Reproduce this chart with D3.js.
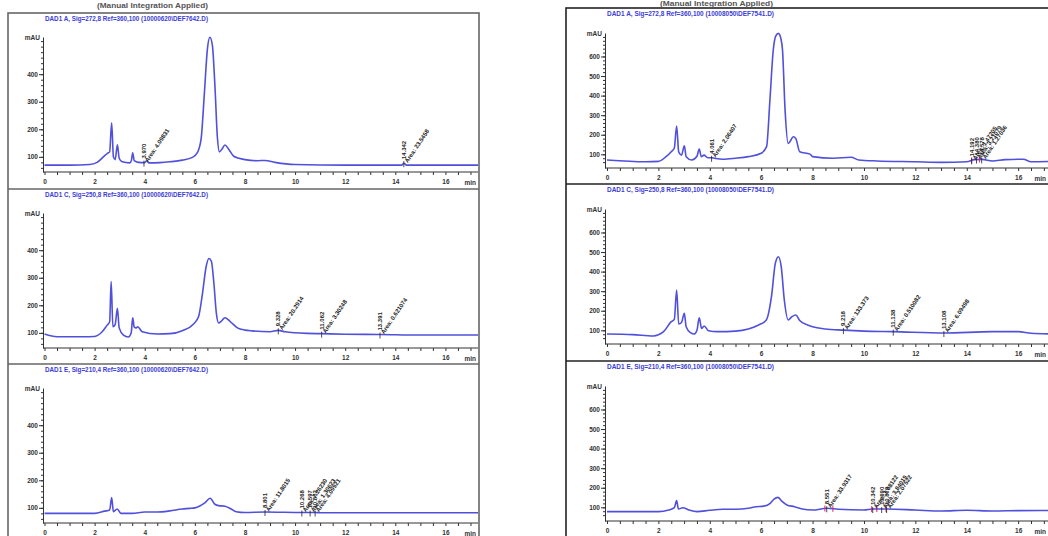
<!DOCTYPE html>
<html>
<head>
<meta charset="utf-8">
<script src="https://cdn.jsdelivr.net/npm/d3@7"></script>
<style>
  body { margin: 0; background: #fff; }
  svg { display: block; font-family: "Liberation Sans", Arial, sans-serif; }
  .axis text { fill: #333; font-size: 6.5px; font-weight: bold; }
  .axis path, .axis line { stroke: #333; }
</style>
</head>
<body>
<svg id="chart" width="1048" height="536"></svg>
<script>
// -- TRACES (time min, mAU) --
const traceL1 = [[0,70],[1.0,70],[1.8,72],[2.1,80],[2.35,100],[2.5,112],[2.6,118],[2.68,224],[2.75,100],[2.82,90],[2.91,144],[2.98,95],[3.1,82],[3.4,78],[3.47,88],[3.52,115],[3.58,86],[3.75,80],[4.0,79],[4.08,86],[4.16,78],[4.6,79],[5.0,82],[5.5,88],[5.9,98],[6.1,115],[6.25,165],[6.38,330],[6.5,490],[6.6,534],[6.7,505],[6.8,360],[6.9,170],[6.98,118],[7.08,128],[7.2,143],[7.35,128],[7.55,102],[8.0,90],[8.5,86],[8.8,87],[9.2,80],[10,72],[12,70],[14.25,70],[14.34,77],[14.45,70],[16,70],[17.3,70]];
const traceL2 = [[0,96],[0.5,86],[1.5,86],[2.0,87],[2.3,104],[2.5,128],[2.6,140],[2.66,286],[2.73,122],[2.82,130],[2.91,189],[2.98,118],[3.15,92],[3.35,85],[3.46,100],[3.52,155],[3.58,121],[3.66,118],[3.72,122],[3.9,104],[4.5,96],[5.0,97],[5.5,108],[5.95,132],[6.15,159],[6.3,240],[6.45,340],[6.56,370],[6.66,360],[6.76,280],[6.86,170],[6.95,136],[7.05,142],[7.2,155],[7.4,142],[7.7,118],[8.0,110],[8.3,107],[9.0,104],[9.33,109],[9.6,104],[10.5,98],[11.06,97],[12,95],[13.39,94],[15,92],[17.3,92]];
const traceL3 = [[0,80],[2.0,80],[2.4,88],[2.6,92],[2.68,137],[2.75,86],[2.9,96],[3.05,80],[3.5,80],[4.0,85],[4.5,85],[5.0,89],[5.5,96],[5.8,98],[6.0,100],[6.2,107],[6.4,118],[6.61,135],[6.8,113],[6.95,108],[7.2,106],[7.45,96],[7.65,86],[8.0,83],[8.8,85],[10.3,83],[10.8,83],[11,82],[13,82],[17.3,82]];
const traceR1 = [[0,71],[1.5,62],[2.0,64],[2.3,88],[2.5,113],[2.62,132],[2.71,245],[2.79,113],[2.9,96],[3.01,144],[3.08,88],[3.3,71],[3.5,90],[3.59,127],[3.67,88],[3.78,96],[3.9,84],[4.07,82],[4.5,75],[5.0,80],[5.5,88],[6.0,105],[6.21,139],[6.34,377],[6.47,633],[6.57,705],[6.67,718],[6.77,690],[6.83,633],[6.93,326],[7.05,156],[7.12,165],[7.25,190],[7.35,180],[7.5,113],[7.9,101],[8.0,88],[8.8,80],[9.5,85],[9.8,71],[10.5,66],[12,62],[13,59],[14,62],[14.3,73],[14.6,74],[15,66],[15.5,73],[16.2,75],[16.5,62],[17.5,64]];
const traceR2 = [[0,81],[1.0,78],[1.8,71],[2.2,93],[2.5,144],[2.62,156],[2.71,306],[2.79,132],[2.9,140],[3.01,187],[3.08,118],[3.25,88],[3.4,81],[3.5,100],[3.59,164],[3.68,110],[3.78,122],[3.95,98],[4.3,93],[5.0,96],[5.5,107],[5.9,127],[6.2,153],[6.4,272],[6.55,442],[6.67,476],[6.78,425],[6.9,255],[7.05,153],[7.2,170],[7.35,178],[7.5,150],[7.8,127],[8.0,118],[8.5,107],[9.2,101],[10,96],[11.14,93],[13.11,86],[15,93],[16,93],[16.5,85],[17.5,81]];
const traceR3 = [[0,78],[2.0,78],[2.4,86],[2.62,98],[2.71,134],[2.78,91],[2.95,98],[3.2,86],[3.5,78],[4.0,85],[4.5,90],[5.0,90],[5.5,95],[5.8,103],[6.1,106],[6.35,120],[6.5,142],[6.65,151],[6.8,132],[7.0,112],[7.3,103],[7.6,91],[8.0,86],[8.55,95],[9.0,90],[10,86],[10.34,91],[10.9,91],[12,86],[13,81],[14,85],[15,81],[16,83],[17.5,84]];

// -- PEAK LABELS [time, retention text, area text] --
const annL1 = [[3.97,"3.970","Area: 4.09831"],[14.34,"14.342","Area: 23.5458"]];
const annL2 = [[9.33,"9.328","Area: 20.2914"],[11.06,"11.062","Area: 3.30248"],[13.39,"13.391","Area: 0.621074"]];
const annL3 = [[8.8,"8.801","Area: 11.8015"],[10.27,"10.268","Area: 7.26230"],[10.6,"10.597","Area: 1.30623"],[10.8,"10.802","Area: 4.09921"]];
const annR1 = [[4.07,"4.061","Area: 2.06407"],[14.19,"14.192","Area: 1.47205"],[14.38,"14.380","Area: 3.21079"],[14.58,"14.578","Area: 1.27036"]];
const annR2 = [[9.2,"9.218","Area: 133.373"],[11.14,"11.138","Area: 0.510082"],[13.11,"13.108","Area: 6.09498"]];
const annR3 = [[8.55,"8.551","Area: 33.9317"],[10.34,"10.342","Area: 1.08122"],[10.69,"10.690","Area: 3.84019"],[10.88,"10.879","Area: 2.07522"]];

// -- INTEGRATION MARKS (time) --
const marksR1 = [14.19, 14.5];
const marksR3 = [8.48, 8.79, 10.3, 10.5, 10.86];

// -- TITLES --
const titlesL = ["DAD1 A, Sig=272,8 Ref=360,100 (10000620\\DEF7642.D)",
                 "DAD1 C, Sig=250,8 Ref=360,100 (10000620\\DEF7642.D)",
                 "DAD1 E, Sig=210,4 Ref=360,100 (10000620\\DEF7642.D)"];
const titlesR = ["DAD1 A, Sig=272,8 Ref=360,100 (10008050\\DEF7541.D)",
                 "DAD1 C, Sig=250,8 Ref=360,100 (10008050\\DEF7541.D)",
                 "DAD1 E, Sig=210,4 Ref=360,100 (10008050\\DEF7541.D)"];
const header = "(Manual Integration Applied)";

const yMajorL = [100, 200, 300, 400];
const yMajorR = [100, 200, 300, 400, 500, 600];
const xLabels = [0, 2, 4, 6, 8, 10, 12, 14, 16];

const svg = d3.select("#chart");
const lineColor = "#5050dc";

const cols = [
    { fx0: 8, fx1: 479, tops: [13, 189, 364], axisX: 43, x0: 44.5, x1: 478, xMax: 17.3,
      yDom: [45, 535], yMaj: yMajorL, bottomOff: 159, topOff: 24, frame: "#666", titleW: 163,
      headerX: 97, headerW: 111, headerY: 8, minX: 476,
      titles: titlesL, traces: [traceL1, traceL2, traceL3], anns: [annL1, annL2, annL3], marks: [[], [], []] },
    { fx0: 566, fx1: 1056, tops: [8, 184, 361], axisX: 605, x0: 607, x1: 1056.7, xMax: 17.5,
      yDom: [30, 720], yMaj: yMajorR, bottomOff: 160, topOff: 25, frame: "#222", titleW: 167,
      headerX: 660, headerW: 113, headerY: 6, minX: 1046,
      titles: titlesR, traces: [traceR1, traceR2, traceR3], anns: [annR1, annR2, annR3], marks: [marksR1, [], marksR3] }
];

function valueAt(trace, t) {
    const i = d3.bisector(d => d[0]).left(trace, t);
    if (i <= 0) return trace[0][1];
    if (i >= trace.length) return trace[trace.length - 1][1];
    const a = trace[i - 1], b = trace[i];
    return a[1] + (b[1] - a[1]) * (t - a[0]) / (b[0] - a[0]);
}

cols.forEach(c => {
    // frame
    svg.append("rect")
        .attr("x", c.fx0).attr("y", c.tops[0])
        .attr("width", c.fx1 - c.fx0).attr("height", 600)
        .attr("fill", "none").attr("stroke", c.frame).attr("stroke-width", 1.6);
    c.tops.slice(1).forEach(t => {
        svg.append("line").attr("x1", c.fx0).attr("x2", c.fx1).attr("y1", t).attr("y2", t)
            .attr("stroke", c.frame).attr("stroke-width", 1.6);
    });

    svg.append("text")
        .attr("x", c.headerX).attr("y", c.headerY)
        .attr("textLength", c.headerW).attr("lengthAdjust", "spacingAndGlyphs")
        .attr("font-size", 7).attr("font-weight", "bold").attr("fill", "#555")
        .text(header);

    const x = d3.scaleLinear().domain([0, c.xMax]).range([c.x0, c.x1]);

    c.tops.forEach((top, p) => {
        const axisY = top + c.bottomOff;
        const y = d3.scaleLinear().domain(c.yDom).range([axisY, top + c.topOff]);
        const g = svg.append("g");

        // title
        g.append("text")
            .attr("x", c.axisX + 2).attr("y", top + 8)
            .attr("textLength", c.titleW).attr("lengthAdjust", "spacingAndGlyphs")
            .attr("font-size", 7).attr("font-weight", "bold").attr("fill", "#3c3cd8")
            .text(c.titles[p]);

        // y axis: minor + major
        g.append("g").attr("class", "axis")
            .attr("transform", `translate(${c.axisX},0)`)
            .call(d3.axisLeft(y).tickValues(d3.range(60, c.yDom[1], 20)).tickSize(2).tickSizeOuter(0).tickFormat(""));
        g.append("g").attr("class", "axis")
            .attr("transform", `translate(${c.axisX},0)`)
            .call(d3.axisLeft(y).tickValues(c.yMaj).tickSize(4).tickPadding(1).tickSizeOuter(0))
            .select(".domain").remove();
        g.append("text")
            .attr("x", c.axisX - 3).attr("y", top + c.topOff + 3)
            .attr("text-anchor", "end").attr("font-size", 6.5).attr("font-weight", "bold").attr("fill", "#333")
            .text("mAU");

        // x axis
        const xa = g.append("g").attr("class", "axis")
            .attr("transform", `translate(0,${axisY})`)
            .call(d3.axisBottom(x).tickValues(d3.range(0, c.xMax, 0.5)).tickSize(3).tickPadding(4).tickSizeOuter(0)
                .tickFormat(d => xLabels.includes(d) ? d : ""));
        xa.select(".domain").attr("d", `M${c.axisX},0H${c.x1}`);
        g.append("text")
            .attr("x", c.minX).attr("y", axisY + 13)
            .attr("text-anchor", "end").attr("font-size", 6.5).attr("font-weight", "bold").attr("fill", "#333")
            .text("min");

        // trace
        const trace = c.traces[p];
        g.append("path")
            .datum(trace)
            .attr("fill", "none")
            .attr("stroke", lineColor)
            .attr("stroke-width", 1.6)
            .attr("stroke-linejoin", "round")
            .attr("d", d3.line().x(d => x(d[0])).y(d => y(d[1])).curve(d3.curveMonotoneX));

        // integration marks
        c.marks[p].forEach(t => {
            const py = y(valueAt(trace, t));
            g.append("line").attr("x1", x(t)).attr("x2", x(t))
                .attr("y1", py - 3).attr("y2", py + 3)
                .attr("stroke", "#e0206a").attr("stroke-width", 1);
        });

        // peak labels
        c.anns[p].forEach(a => {
            const px = x(a[0]);
            const py = y(valueAt(trace, a[0]));
            g.append("line").attr("x1", px).attr("x2", px)
                .attr("y1", py - 2).attr("y2", py + 4)
                .attr("stroke", "#222").attr("stroke-width", 0.8);
            g.append("text")
                .attr("transform", `translate(${px + 2},${py - 4}) rotate(-90)`)
                .attr("font-size", 6).attr("font-weight", "bold").attr("fill", "#222")
                .text(a[1]);
            g.append("text")
                .attr("transform", `translate(${px + 4},${py}) rotate(-56)`)
                .attr("font-size", 6).attr("font-weight", "bold").attr("fill", "#222")
                .text(a[2]);
        });
    });
});
</script>
</body>
</html>
